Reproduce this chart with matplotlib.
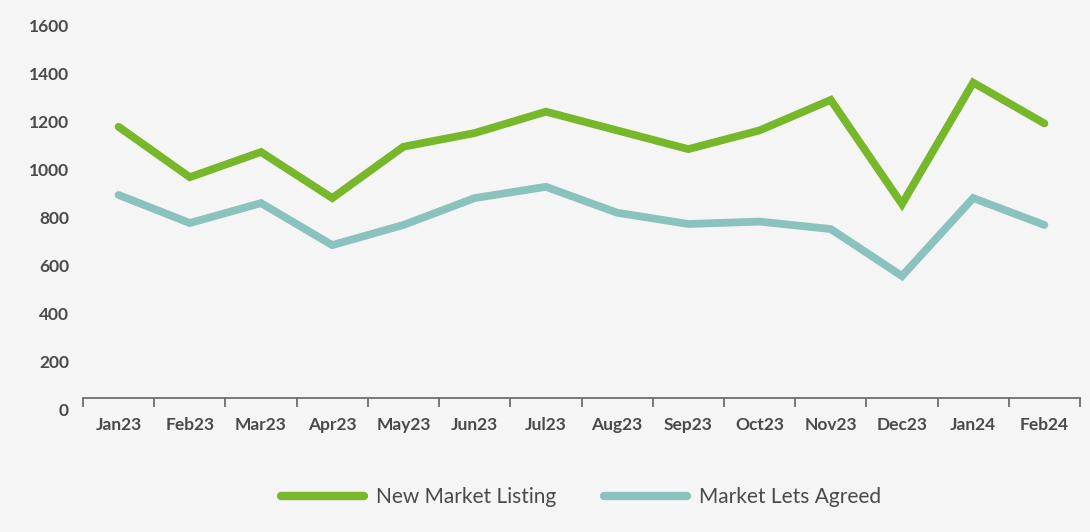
import matplotlib
matplotlib.use('Agg')
import matplotlib.pyplot as plt
import numpy as np

# ---- data ----
months   = ['Jan23', 'Feb23', 'Mar23', 'Apr23', 'May23', 'Jun23', 'Jul23',
            'Aug23', 'Sep23', 'Oct23', 'Nov23', 'Dec23', 'Jan24', 'Feb24']
listings = [1180, 970, 1075, 883, 1097, 1154, 1243, 1165, 1087, 1165, 1292, 858, 1364, 1194]
lets     = [896, 779, 862, 687, 771, 883, 930, 822, 775, 785, 754, 558, 883, 771]
yticks   = [0, 200, 400, 600, 800, 1000, 1200, 1400, 1600]

# ---- style ----
GREEN, TEAL = '#76b82a', '#8ac2be'
BG, TXT, AXC = '#f5f5f5', '#4a4a4a', '#6e6e6e'
plt.rcParams['font.family'] = ['Lato', 'DejaVu Sans']

fig = plt.figure(figsize=(10.9, 5.32), dpi=100, facecolor=BG)
ax = fig.add_axes([83 / 1090, 122 / 532, 997 / 1090, 396 / 532])
ax.set_facecolor(BG)

x = np.arange(len(months))
ax.plot(x, listings, color=GREEN, lw=5.6, solid_capstyle='round',
        solid_joinstyle='miter', label='New Market Listing', clip_on=False)
ax.plot(x, lets, color=TEAL, lw=5.6, solid_capstyle='round',
        solid_joinstyle='miter', label='Market Lets Agreed', clip_on=False)

ax.set_xlim(-0.5, len(months) - 0.5)
ax.set_ylim(0, 1650)

for s in ['top', 'right', 'left']:
    ax.spines[s].set_visible(False)
ax.spines['bottom'].set_position(('data', 50))
ax.spines['bottom'].set_color(AXC)
ax.spines['bottom'].set_linewidth(1.3)

ax.set_xticks(x)
ax.set_xticklabels(months)
ax.set_xticks(np.arange(len(months) + 1) - 0.5, minor=True)
ax.tick_params(axis='x', which='major', length=0, pad=14, labelsize=12.5,
               labelcolor=TXT)
ax.tick_params(axis='x', which='minor', length=6.5, width=1.3, color=AXC)
for lbl in ax.get_xticklabels():
    lbl.set_fontweight('bold')

ax.set_yticks(yticks)
ax.set_yticklabels([str(v) for v in yticks])
ax.tick_params(axis='y', length=0, pad=10, labelsize=12.5, labelcolor=TXT)
for lbl in ax.get_yticklabels():
    lbl.set_fontweight('bold')

leg = fig.legend(loc='center', bbox_to_anchor=(581 / 1090, 35 / 532), ncol=2,
                 frameon=False, handlelength=4.0, handletextpad=0.55,
                 columnspacing=2.3, prop={'weight': 'normal', 'size': 15})
for t in leg.get_texts():
    t.set_color(TXT)
for h in leg.get_lines():
    h.set_linewidth(6)
    h.set_solid_capstyle('round')

fig.savefig('out.png', dpi=100, facecolor=BG)
